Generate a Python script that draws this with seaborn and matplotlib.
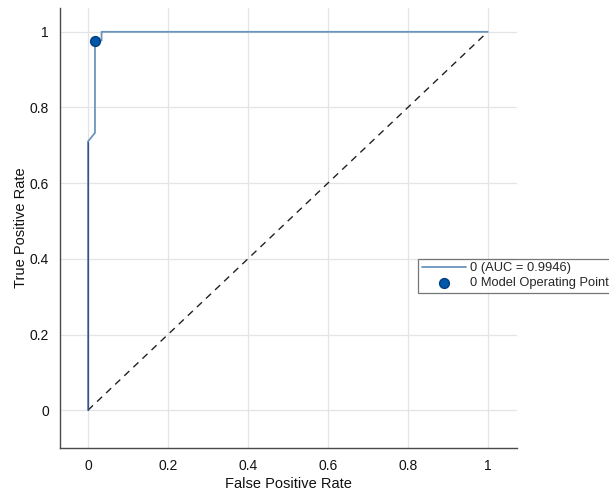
import numpy as np
import pandas as pd
import matplotlib
matplotlib.use("Agg")
import matplotlib.pyplot as plt
import seaborn as sns

# ROC curve data
fpr = [0.0, 0.0, 0.0175, 0.0175, 0.034, 0.034, 1.0]
tpr = [0.0, 0.71, 0.733, 0.977, 0.977, 1.0, 1.0]
op_fpr = [0.0175]
op_tpr = [0.977]
chance = [0.0, 1.0]
auc_label = "0 (AUC = 0.9946)"
op_label = "0 Model Operating Point"
x_ticks = [0, 0.2, 0.4, 0.6, 0.8, 1]
y_ticks = [0, 0.2, 0.4, 0.6, 0.8, 1]
tick_labels = ["0", "0.2", "0.4", "0.6", "0.8", "1"]

sns.set_style("white")
plt.rcParams['font.family'] = ['Liberation Sans', 'DejaVu Sans']

fig = plt.figure(figsize=(6.09, 4.90), dpi=100)
ax = fig.add_axes([0.0985, 0.0857, 0.750, 0.898])

roc_df = pd.DataFrame({"fpr": fpr, "tpr": tpr})
ch_df = pd.DataFrame({"x": chance, "y": chance})
op_df = pd.DataFrame({"x": op_fpr, "y": op_tpr})

sns.lineplot(data=ch_df, x="x", y="y", ax=ax, color="#222222", linestyle=(0, (5, 4)),
             linewidth=1.0, sort=False, estimator=None, label="_nolegend_")
sns.lineplot(data=roc_df, x="fpr", y="tpr", ax=ax, color="#6a95bd", linewidth=1.3,
             sort=False, estimator=None, label=auc_label)
ax.plot([0, 0], [0, 0.71], color="#3d4f85", linewidth=0.9, zorder=3)
sns.scatterplot(data=op_df, x="x", y="y", ax=ax, color="#0057a8", edgecolor="#003f80",
                s=50, linewidth=1.0, zorder=5, label=op_label)

ax.set_xlim(-0.07, 1.0725)
ax.set_ylim(-0.1, 1.063)
ax.set_xticks(x_ticks)
ax.set_xticklabels(tick_labels)
ax.set_yticks(y_ticks)
ax.set_yticklabels(tick_labels)
ax.grid(True, color="#e4e4e4", linewidth=0.9)
ax.set_axisbelow(True)
for s in ["top", "right"]:
    ax.spines[s].set_visible(False)
for s in ["left", "bottom"]:
    ax.spines[s].set_color("#4a4a4a")
    ax.spines[s].set_linewidth(1.0)
ax.tick_params(direction="in", length=4, width=0.9, color="#333333",
               labelsize=10, labelcolor="#111111", pad=8)
ax.set_xlabel("False Positive Rate", fontsize=10.5, color="#111111", labelpad=3)
ax.set_ylabel("True Positive Rate", fontsize=10.5, color="#111111", labelpad=1)

leg = ax.legend(loc="lower left", bbox_to_anchor=(418 / 609, (490 - 293) / 490),
                bbox_transform=fig.transFigure, frameon=True, fancybox=False,
                fontsize=9.3, borderpad=0.3, labelspacing=0.2, handlelength=3.4,
                handletextpad=0.3, borderaxespad=0)
leg.get_frame().set_edgecolor("#555555")
leg.get_frame().set_linewidth(0.9)
leg.set_clip_on(False)

fig.savefig("out.png", dpi=100)
